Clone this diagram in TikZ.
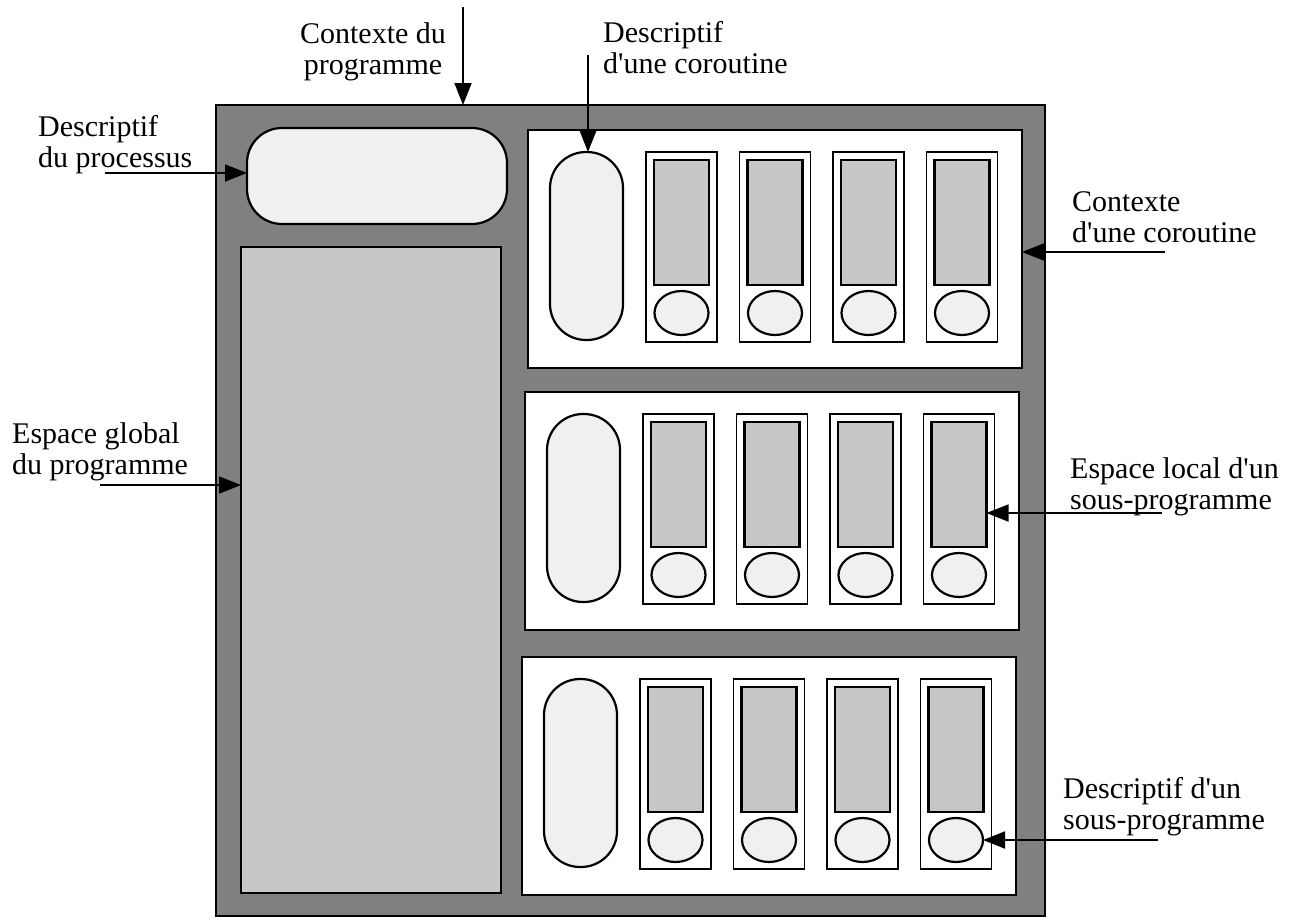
\documentclass[tikz,border=0pt]{standalone}
\usepackage{fontspec}
\setmainfont{Liberation Serif}
\usetikzlibrary{arrows.meta,shapes.geometric}
\definecolor{outerc}{gray}{0.50}
\definecolor{midc}{gray}{0.78}
\definecolor{lightc}{gray}{0.94}
\newcommand\apo{\textquotesingle}
\begin{document}
\begin{tikzpicture}[x=1pt,y=-1pt,
  box/.style={draw,line width=2.2pt,inner sep=0pt,outer sep=0pt},
  thinbox/.style={draw,line width=1.8pt,inner sep=0pt,outer sep=0pt},
  lbl/.style={font=\fontsize{30}{31}\selectfont,align=left,inner sep=0pt,anchor=north west},
  arr/.style={line width=1.8pt,-{Triangle[length=22pt,width=17pt]}},
]
\useasboundingbox (0,0) rectangle (1304,919);
\fill[white] (0,0) rectangle (1304,919);

% outer context of the program
\node[box,fill=outerc,minimum width=829pt,minimum height=811pt] (outer) at (630.5,510.5) {};
% process descriptor
\node[box,fill=lightc,rounded corners=35pt,minimum width=260pt,minimum height=96pt] (proc) at (377,176) {};
% global space
\node[box,fill=midc,minimum width=260pt,minimum height=646pt] (glob) at (371,570) {};

% coroutine panels
\foreach \i/\T/\dx in {1/130/3,2/392/0,3/657/-3}{
  \pgfmathsetmacro\pcx{772+\dx}
  \pgfmathsetmacro\pcy{\T+119}
  \node[box,fill=white,minimum width=494pt,minimum height=238pt] (p\i) at (\pcx,\pcy) {};
  \pgfmathsetmacro\ccx{583.5+\dx}
  \pgfmathsetmacro\ccy{\T+116}
  \node[box,fill=lightc,rounded corners=36pt,minimum width=73pt,minimum height=188pt] (p\i c) at (\ccx,\ccy) {};
  \foreach \k in {1,2,3,4}{
    \pgfmathsetmacro\bx{678.5+93.5*(\k-1)+\dx}
    \pgfmathsetmacro\by{\T+117}
    \pgfmathsetmacro\ry{\T+92.5}
    \pgfmathsetmacro\ey{\T+183}
    \node[thinbox,fill=white,minimum width=71pt,minimum height=190pt] (p\i b\k) at (\bx,\by) {};
    \node[box,fill=midc,minimum width=55pt,minimum height=125pt] (p\i r\k) at (\bx,\ry) {};
    \node[box,fill=lightc,ellipse,minimum width=54pt,minimum height=44pt] (p\i e\k) at (\bx,\ey) {};
  }
}

% labels
\node[lbl,anchor=north,align=center] (tcp) at (373,21.3) {\strut Contexte du\\programme};
\node[lbl] (tdc) at (603,20.3) {\strut Descriptif\\d\apo une coroutine};
\node[lbl] (tdp) at (38,115) {\strut Descriptif\\du processus};
\node[lbl] (tcc) at (1072,190) {\strut Contexte\\d\apo une coroutine};
\node[lbl] (teg) at (12,422) {\strut Espace global\\du programme};
\node[lbl] (tel) at (1070,457) {\strut Espace local d\apo un\\sous-programme};
\node[lbl] (tds) at (1063,777) {\strut Descriptif d\apo un\\sous-programme};

% arrows
\coordinate (cpS) at (463,7);
\coordinate (dcS) at (588,55);
\coordinate (dpS) at (105,173);
\coordinate (ccS) at (1165,252);
\coordinate (egS) at (100,485);
\coordinate (elS) at (1162,513);
\coordinate (dsS) at (1158,840);
\draw[arr] (cpS) -- (cpS |- outer.north);
\draw[arr] (dcS) -- (dcS |- p1c.north);
\draw[arr] (dpS) -- (dpS -| proc.west);
\draw[arr] (ccS) -- (ccS -| p1.east);
\draw[arr] (egS) -- (egS -| glob.west);
\draw[arr] (elS) -- (elS -| p2r4.east);
\draw[arr] (dsS) -- (dsS -| p3e4.east);
\end{tikzpicture}
\end{document}
